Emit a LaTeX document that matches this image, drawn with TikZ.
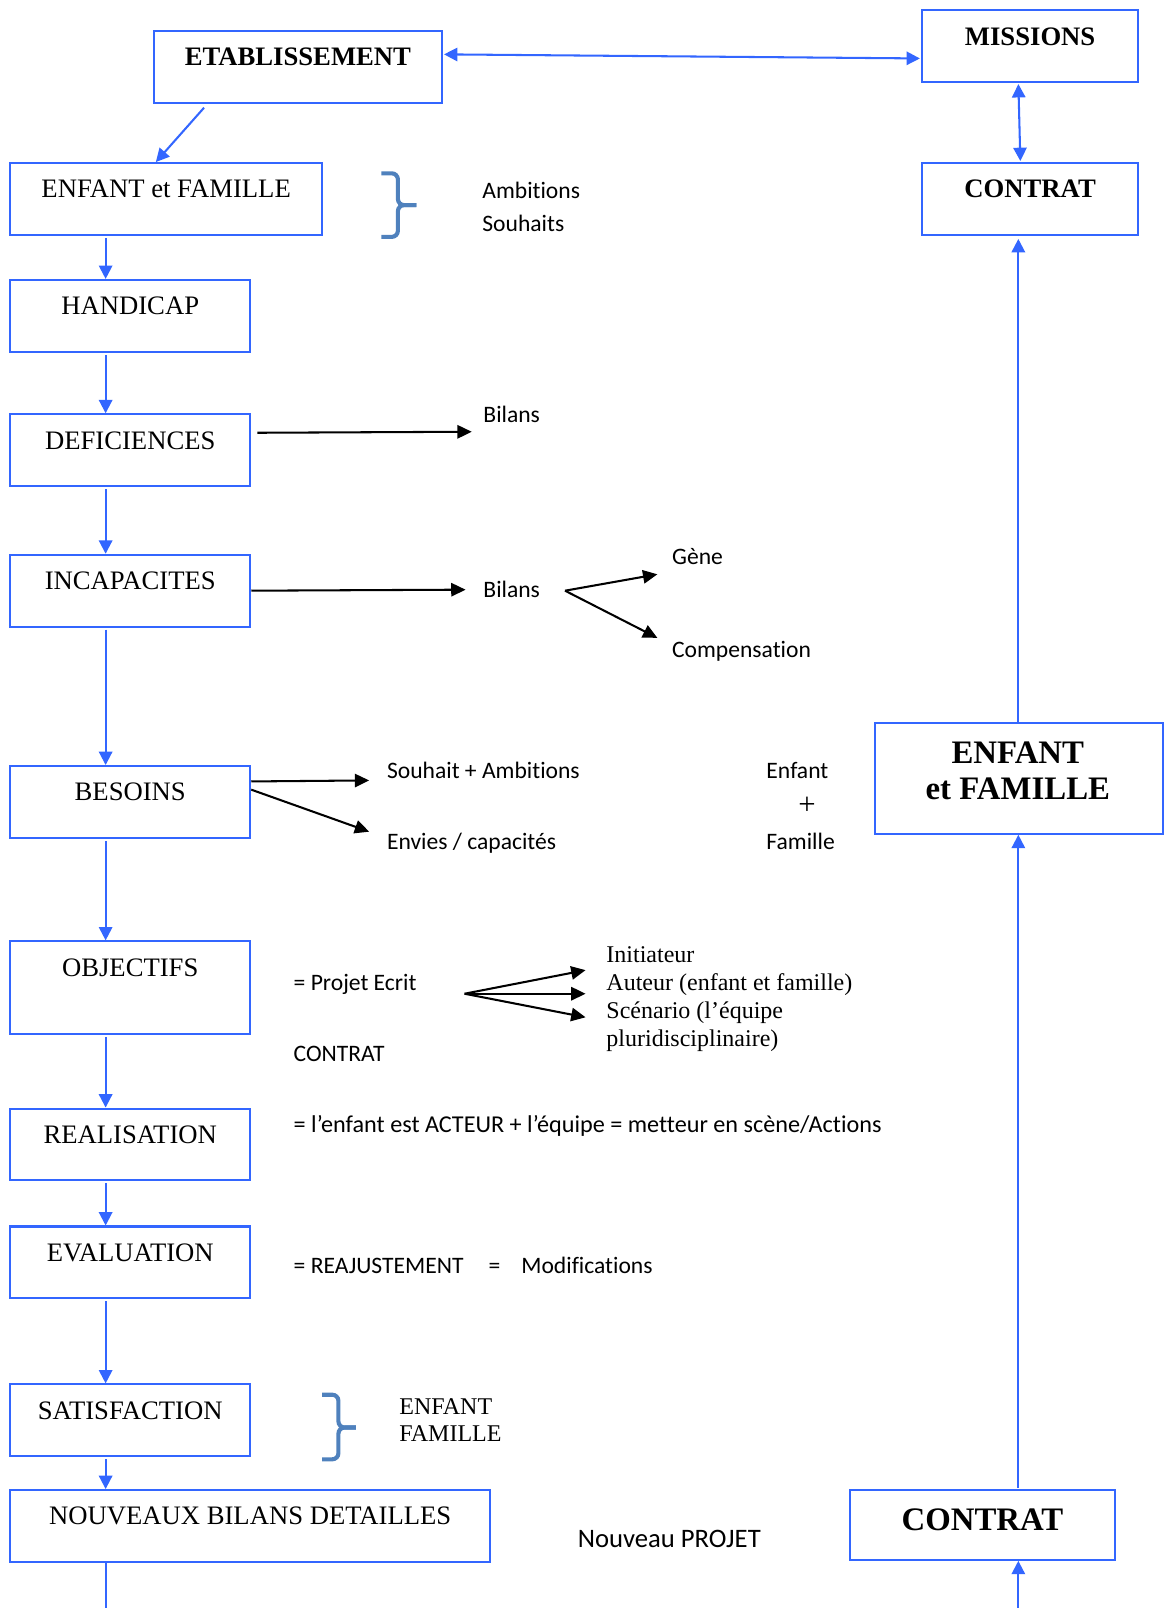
\documentclass[tikz,border=0pt]{standalone}
\usepackage{fontspec}
\setmainfont{Liberation Serif}
\newfontfamily\calib[Ligatures=CommonOff]{Carlito}
\usetikzlibrary{arrows.meta}
\definecolor{bblue}{RGB}{51,102,255}
\definecolor{brc}{RGB}{79,129,189}
\begin{document}
\begin{tikzpicture}[x=0.5pt,y=-0.5pt,
 box/.style={draw=bblue, line width=1pt, inner sep=0pt, anchor=north west,
   font=\fontsize{13}{15}\selectfont, text height=17pt, text depth=18pt},
 hb/.style={font=\bfseries\fontsize{13}{15}\selectfont},
 bl/.style={draw=bblue, line width=1pt, -{Triangle[length=6.5pt,width=6.5pt]}},
 blb/.style={draw=bblue, line width=1pt, {Triangle[length=6.5pt,width=6.5pt]}-{Triangle[length=6.5pt,width=6.5pt]}},
 blk/.style={draw=black, line width=1pt, -{Triangle[length=7pt,width=6.5pt]}},
 ct/.style={font=\calib\fontsize{11.5}{14}\selectfont, inner sep=0pt, anchor=base west},
 tt/.style={font=\fontsize{11.7}{13.5}\selectfont, inner sep=0pt, anchor=base west},
 brace/.style={draw=brc, line width=2pt, rounded corners=3pt},
]
\useasboundingbox (0,0) rectangle (1138,1568);

% ---- boxes ----
\node[box, hb, minimum width=140.5pt] (etab) at (149,29) {ETABLISSEMENT};
\node[box, hb, minimum width=105.5pt] (miss) at (898,9) {MISSIONS};
\node[box, hb, minimum width=105.5pt] (con1) at (898,158) {CONTRAT};
\node[box, minimum width=152pt] (enf1) at (9,158) {ENFANT et FAMILLE};
\node[box, minimum width=117pt] (hand) at (9,272) {HANDICAP};
\node[box, minimum width=117pt] (def) at (9,403) {DEFICIENCES};
\node[box, minimum width=117pt] (inc) at (9,540) {INCAPACITES};
\node[box, minimum width=117pt] (bes) at (9,746) {BESOINS};
\node[box, minimum width=117pt, text depth=28pt] (obj) at (9,917) {OBJECTIFS};
\node[box, minimum width=117pt] (real) at (9,1080) {REALISATION};
\node[box, minimum width=117pt] (eval) at (9,1195) {EVALUATION};
\node[box, minimum width=117pt] (sat) at (9,1349) {SATISFACTION};
\node[box, minimum width=234pt] (nouv) at (9,1452) {NOUVEAUX BILANS DETAILLES};
\node[box, font=\bfseries\fontsize{16}{18}\selectfont, minimum width=129pt,
      text height=19.5pt, text depth=14.5pt] (con2) at (828,1452) {CONTRAT};
\node[box, minimum width=140.5pt, minimum height=54pt, text height=0pt, text depth=0pt] (enf2) at (852,704) {};
\node[font=\bfseries\fontsize{16}{17.5}\selectfont, align=center, inner sep=0pt] (enf2t) at (992.5,751.5) {ENFANT\\et FAMILLE};

% ---- side texts ----
\node[ct] (amb) at (470,194) {Ambitions};
\node[ct] (sou) at (470,226) {Souhaits};
\node[ct] (bilA) at (471,412) {Bilans};
\node[ct] (bilB) at (471,583) {Bilans};
\node[ct] (gene) at (655,550) {Gène};
\node[ct] (comp) at (655,641) {Compensation};
\node[ct] (souh) at (377,759) {Souhait + Ambitions};
\node[ct] (env) at (377,828) {Envies / capacités};
\node[ct] (enft) at (747,759) {Enfant};
\node[font=\fontsize{15}{17}\selectfont, inner sep=0pt] (plus) at (787,786) {+};
\node[ct] (fam) at (747,828) {Famille};
\node[ct] (proj) at (286,966) {= Projet Ecrit};
\node[ct] (contr) at (286,1035) {CONTRAT};
\node[tt] (init) at (591,939) {Initiateur};
\node[tt] (aut) at (591,966) {Auteur (enfant et famille)};
\node[tt] (scen) at (591,993) {Scénario (l’équipe};
\node[tt] (plur) at (591,1020) {pluridisciplinaire)};
\node[ct, font=\calib\fontsize{11.8}{14}\selectfont] (act) at (286,1104) {= l’enfant est ACTEUR + l’équipe = metteur en scène/Actions};
\node[ct] (reaj) at (286,1242) {= REAJUSTEMENT};
\node[ct] (eqm) at (476,1242) {=};
\node[ct] (modif) at (508,1242) {Modifications};
\node[tt] (senf) at (389,1379) {ENFANT};
\node[tt] (sfam) at (389,1406) {FAMILLE};
\node[ct, font=\calib\fontsize{13}{15}\selectfont] (nproj) at (563,1509) {Nouveau PROJET};

% ---- braces ----
\draw[brace] (372,169) -- (388,169) -- (388,200) -- (406,200);
\draw[brace] (406,200) -- (388,200) -- (388,231) -- (372,231);
\draw[brace] (314,1360) -- (330,1360) -- (330,1392) -- (347,1392);
\draw[brace] (347,1392) -- (330,1392) -- (330,1423) -- (314,1423);

% ---- coordinates ----
\coordinate (cl) at (103,0);
\coordinate (cr) at (993,0);
\coordinate (bot) at (0,1568);
\coordinate (fork) at ([xshift=12pt,yshift=3.5pt]bilB.base east);
\coordinate (pf) at ([xshift=-69pt,yshift=-1.5pt]aut.base west);

% ---- blue connectors ----
\draw[blb, shorten <=0.5pt, shorten >=0.5pt] ([yshift=6pt]etab.east) -- ([yshift=-6pt]miss.west);
\draw[bl] ([xshift=-45.75pt,yshift=-2pt]etab.south) -- ([xshift=-5pt]enf1.north);
\draw[blb, shorten <=0.5pt, shorten >=0.5pt] ([xshift=-5.75pt]miss.south) -- ([xshift=-4.75pt]con1.north);
\draw[bl, shorten <=1pt] (enf1.south -| cl) -- (hand.north -| cl);
\draw[bl, shorten <=1pt] (hand.south -| cl) -- (def.north -| cl);
\draw[bl, shorten <=1pt] (def.south -| cl) -- (inc.north -| cl);
\draw[bl, shorten <=1pt] (inc.south -| cl) -- (bes.north -| cl);
\draw[bl, shorten <=1pt] (bes.south -| cl) -- (obj.north -| cl);
\draw[bl, shorten <=1pt] (obj.south -| cl) -- (real.north -| cl);
\draw[bl, shorten <=1pt] (real.south -| cl) -- (eval.north -| cl);
\draw[bl, shorten <=1pt] (eval.south -| cl) -- (sat.north -| cl);
\draw[bl, shorten <=1pt] (sat.south -| cl) -- (nouv.north -| cl);
\draw[draw=bblue, line width=1pt] (nouv.south -| cl) -- (cl |- bot);
\draw[bl] (cr |- bot) -- (con2.south -| cr);
\draw[bl, shorten <=0.5pt] (con2.north -| cr) -- (enf2.south -| cr);
\draw[bl, shorten >=1.5pt] (enf2.north -| cr) -- (con1.south -| cr);

% ---- black connectors ----
\draw[blk] ([xshift=3pt,yshift=8.5pt]def.east) -- ([xshift=-5.5pt,yshift=-4.5pt]bilA.base west);
\draw[blk] (inc.east) -- ([xshift=-8.5pt,yshift=4pt]bilB.base west);
\draw[blk] (fork) -- ([xshift=-7pt,yshift=-5pt]gene.base west);
\draw[blk] (fork) -- ([xshift=-7pt,yshift=9.5pt]comp.base west);
\draw[blk] ([yshift=10pt]bes.east) -- ([xshift=-8.5pt,yshift=-1pt]souh.base west);
\draw[blk] ([yshift=6pt]bes.east) -- ([xshift=-8.5pt,yshift=8.5pt]env.base west);
\draw[blk] (pf) -- ([xshift=-10pt,yshift=-3.5pt]init.base west);
\draw[blk] (pf) -- ([xshift=-10pt,yshift=-1.5pt]aut.base west);
\draw[blk] (pf) -- ([xshift=-10pt,yshift=0.5pt]scen.base west);
\end{tikzpicture}
\end{document}
